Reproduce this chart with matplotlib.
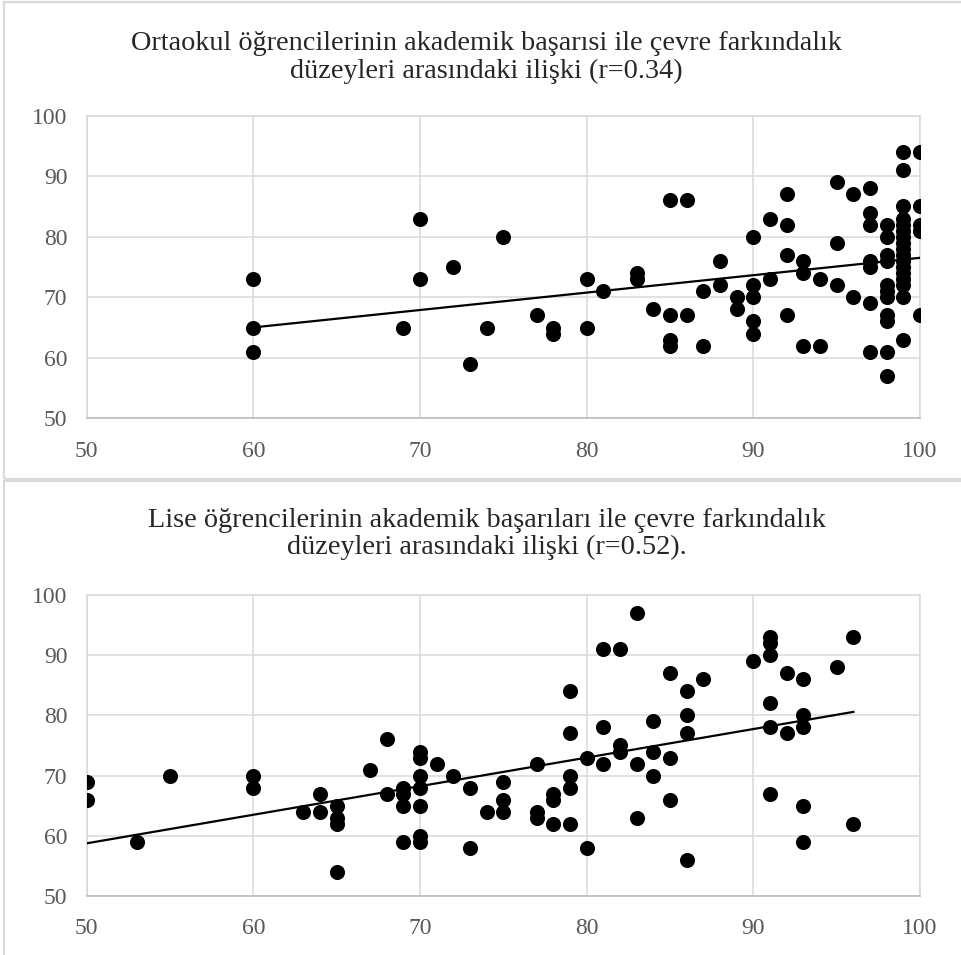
import matplotlib
matplotlib.use("Agg")
import matplotlib.pyplot as plt
import matplotlib.patches as mpatches
import numpy as np

GRID = "#d9d9d9"
AXIS = "#bfbfbf"
LABEL = "#595959"
TITLE = "#262626"
FONT = ["Liberation Serif", "DejaVu Serif"]

ortaokul_title = ("Ortaokul öğrencilerinin akademik başarısi ile çevre farkındalık\n"
                  "düzeyleri arasındaki ilişki (r=0.34)")
lise_title = ("Lise öğrencilerinin akademik başarıları ile çevre farkındalık\n"
              "düzeyleri arasındaki ilişki (r=0.52).")

ortaokul_x = [60, 60, 60, 69, 70, 70, 72, 73, 74, 75,
              77, 78, 78, 80, 80, 81, 83, 83, 84, 85, 85, 85, 85, 86, 86,
              87, 87, 88, 88, 89, 89, 90, 90, 90, 90, 90, 91, 91,
              92, 92, 92, 92, 93, 93, 93, 94, 94, 95, 95, 95, 96, 96,
              97, 97, 97, 97, 97, 97, 97,
              98, 98, 98, 98, 98, 98, 98, 98, 98, 98, 98,
              99, 99, 99, 99, 99, 99, 99, 99, 99, 99, 99, 99, 99, 99, 99, 99, 99,
              100, 100, 100, 100, 100]
ortaokul_y = [73, 65, 61, 65, 83, 73, 75, 59, 65, 80,
              67, 65, 64, 73, 65, 71, 74, 73, 68, 86, 67, 63, 62, 86, 67,
              71, 62, 76, 72, 70, 68, 80, 72, 70, 66, 64, 83, 73,
              87, 82, 77, 67, 76, 74, 62, 73, 62, 89, 79, 72, 87, 70,
              88, 84, 82, 76, 75, 69, 61,
              82, 80, 77, 76, 72, 71, 70, 67, 66, 61, 57,
              94, 91, 85, 83, 82, 81, 80, 79, 78, 77, 76, 75, 74, 73, 72, 70, 63,
              94, 85, 82, 81, 67]

lise_x = [50, 50, 53, 55, 60, 60, 63, 64, 64, 65, 65, 65, 65, 67, 68, 68,
          69, 69, 69, 69, 70, 70, 70, 70, 70, 70, 70, 71, 72, 73, 73, 74,
          75, 75, 75, 77, 77, 77, 78, 78, 78, 79, 79, 79, 79, 79, 80, 80,
          81, 81, 81, 82, 82, 82, 83, 83, 83, 84, 84, 84, 85, 85, 85,
          86, 86, 86, 86, 87, 90, 91, 91, 91, 91, 91, 91, 92, 92,
          93, 93, 93, 93, 93, 95, 96, 96]
lise_y = [69, 66, 59, 70, 70, 68, 64, 67, 64, 65, 63, 62, 54, 71, 76, 67,
          68, 67, 65, 59, 74, 73, 70, 68, 65, 60, 59, 72, 70, 68, 58, 64,
          69, 66, 64, 72, 64, 63, 67, 66, 62, 84, 77, 70, 68, 62, 73, 58,
          91, 78, 72, 91, 75, 74, 97, 72, 63, 79, 74, 70, 87, 73, 66,
          84, 80, 77, 56, 86, 89, 93, 92, 90, 82, 78, 67, 87, 77,
          86, 80, 78, 65, 59, 88, 93, 62]

ticks = [50, 60, 70, 80, 90, 100]

W, H = 962, 955
fig = plt.figure(figsize=(W / 100, H / 100), dpi=100)

# chart frames (two stacked Excel charts)
for top, bottom in [(2, 479), (481, 960)]:
    fig.patches.append(mpatches.Rectangle(
        (4 / W, 1 - bottom / H), 1.0, (bottom - top) / H,
        transform=fig.transFigure, fill=False, edgecolor=GRID, lw=1.6))


def panel(rect, xs, ys, title, title_y):
    ax = fig.add_axes(rect)
    xs = np.array(xs, dtype=float)
    ys = np.array(ys, dtype=float)
    ax.scatter(xs, ys, s=118, color="black", zorder=3, linewidths=0)
    k, b = np.polyfit(xs, ys, 1)
    lx = np.array([xs.min(), xs.max()])
    ax.plot(lx, k * lx + b, color="black", lw=1.6, zorder=4)
    ax.set_xlim(50, 100)
    ax.set_ylim(50, 100)
    ax.set_xticks(ticks)
    ax.set_yticks(ticks)
    ax.grid(True, color=GRID, lw=1.1)
    ax.set_axisbelow(True)
    for side in ["left", "top", "right"]:
        ax.spines[side].set_color(GRID)
        ax.spines[side].set_linewidth(1.1)
    ax.spines["bottom"].set_color(AXIS)
    ax.spines["bottom"].set_linewidth(1.3)
    ax.tick_params(length=0, labelsize=17, labelcolor=LABEL)
    ax.tick_params(axis="y", pad=14)
    ax.tick_params(axis="x", pad=16)
    for lab in ax.get_xticklabels() + ax.get_yticklabels():
        lab.set_family(FONT)
    fig.text(0.506, title_y, title, ha="center", va="center", fontsize=20.3,
             color=TITLE, family=FONT, linespacing=1.13)
    return ax


panel([86.7 / W, 1 - 418.3 / H, 833.3 / W, 302.6 / H],
      ortaokul_x, ortaokul_y, ortaokul_title, 1 - 57.5 / H)
panel([86.7 / W, 1 - 896 / H, 833.3 / W, 301 / H],
      lise_x, lise_y, lise_title, 1 - 534 / H)

fig.savefig("out.png", dpi=100)
